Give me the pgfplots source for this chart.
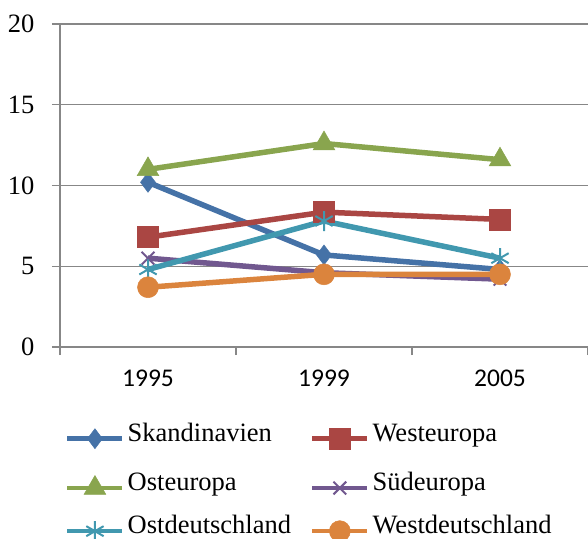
\documentclass[border=0pt]{standalone}
\usepackage{fontspec}
\setmainfont{Liberation Serif}
\newfontfamily\calibri{Carlito}
\usepackage{pgfplots}
\pgfplotsset{compat=1.18}
\definecolor{cBlue}{HTML}{4572A7}
\definecolor{cRed}{HTML}{AA4643}
\definecolor{cGreen}{HTML}{89A54E}
\definecolor{cPurple}{HTML}{71588F}
\definecolor{cAqua}{HTML}{4198AF}
\definecolor{cOrange}{HTML}{DB843D}
\definecolor{gridgray}{HTML}{878787}
\begin{document}
\begin{tikzpicture}
\path[use as bounding box] (-60pt,-191pt) rectangle (528pt,347pt);
\begin{axis}[
  at={(0pt,0pt)}, anchor=south west,
  scale only axis, width=528pt, height=323pt,
  xmin=0, xmax=3, ymin=0, ymax=20,
  axis x line=bottom, axis y line=left,
  axis line style={-, draw=gridgray, line width=1.2pt},
  xtick={0,1,2,3}, xticklabels={},
  extra x ticks={0.5,1.5,2.5},
  extra x tick labels={1995,1999,2005},
  extra x tick style={major tick length=0pt,
     xticklabel style={font=\calibri\fontsize{25.5}{30}\selectfont, yshift=-19pt}},
  ytick={0,5,10,15,20},
  yticklabels={0,5,10,15,20},
  ymajorgrids, grid style={draw=gridgray, line width=1.2pt},
  tick align=outside, major tick length=8pt,
  tick style={draw=gridgray, line width=1.2pt},
  yticklabel style={font=\rmfamily\fontsize{26.5}{30}\selectfont, xshift=-14pt},
  clip=false,
  legend columns=2,
  legend cell align=left,
  legend style={draw=none, fill=none, at={(rel axis cs:0,0)}, anchor=north west,
     xshift=2pt, yshift=-79pt,
     font=\rmfamily\fontsize{26.5}{30}\selectfont,
     nodes={inner sep=0pt, text height=0.68em, text depth=0.22em},
     row sep=26.3pt,
     /tikz/every odd column/.append style={column sep=3pt},
     /tikz/every even column/.append style={column sep=19pt}},
  legend image code/.code={\draw[mark repeat=2,mark phase=2,line width=4.5pt]
      plot coordinates {(0pt,0pt) (27.5pt,0pt) (55pt,0pt)};},
  every axis plot/.append style={line width=5.5pt},
]
\addplot[cBlue, mark=diamond*, mark size=10pt, mark options={solid, line width=0.5pt}]
  coordinates {(0.5,10.2) (1.5,5.7) (2.5,4.8)};
\addlegendentry{Skandinavien}
\addplot[cRed, mark=square*, mark size=10.5pt, mark options={solid, line width=0.5pt}]
  coordinates {(0.5,6.8) (1.5,8.35) (2.5,7.9)};
\addlegendentry{Westeuropa}
\addplot[cGreen, mark=triangle*, mark size=12.5pt, mark options={solid, line width=0.5pt}]
  coordinates {(0.5,11.0) (1.5,12.6) (2.5,11.6)};
\addlegendentry{Osteuropa}
\addplot[cPurple, mark=x, mark size=9pt, mark options={solid, line width=2pt}]
  coordinates {(0.5,5.5) (1.5,4.6) (2.5,4.2)};
\addlegendentry{Südeuropa}
\addplot[cAqua, mark=asterisk, mark size=10pt, mark options={solid, line width=2pt}]
  coordinates {(0.5,4.8) (1.5,7.8) (2.5,5.5)};
\addlegendentry{Ostdeutschland}
\addplot[cOrange, mark=*, mark size=10.5pt, mark options={solid, line width=0.5pt}]
  coordinates {(0.5,3.7) (1.5,4.5) (2.5,4.5)};
\addlegendentry{Westdeutschland}
\end{axis}
\end{tikzpicture}
\end{document}
